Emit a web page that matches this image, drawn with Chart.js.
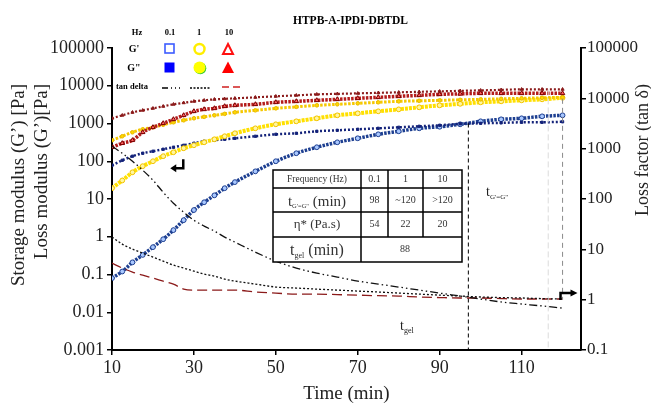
<!DOCTYPE html>
<html>
<head>
<meta charset="utf-8">
<script src="https://cdn.jsdelivr.net/npm/chart.js@4.4.0/dist/chart.umd.min.js"></script>
<style>
  html, body { margin: 0; padding: 0; background: #fff; }
  #wrap { width: 651px; height: 409px; }
</style>
</head>
<body>
<div id="wrap"><canvas id="rheoChart"></canvas></div>
<script>
// values (time in min)
const timeMin = [10, 12.5, 15, 17.5, 20, 22.5, 25, 27.5, 30, 32.5, 35, 37.5, 40, 45, 50, 55, 60, 65, 70, 75, 80, 85, 90, 95, 100, 105, 110, 115, 120];

// storage modulus G' [Pa]
const gStore01 = [0.080, 0.12, 0.21, 0.33, 0.53, 0.86, 1.5, 2.75, 5.1, 8.2, 12.5, 19.3, 28, 54, 100, 163, 235, 318, 406, 518, 622, 746, 820, 953, 1143, 1291, 1374, 1549, 1648];
const gStore1 = [19.3, 31, 51, 74, 100, 136, 173, 221, 265, 318, 382, 459, 551, 746, 953, 1143, 1374, 1648, 1862, 2104, 2370, 2685, 3027, 3320, 3639, 3864, 4111, 4365, 4790];
const gStore10 = [235, 300, 360, 585, 793, 1012, 1291, 1648, 2104, 2370, 2523, 2851, 3027, 3221, 3639, 3864, 4111, 4365, 4645, 4932, 5248, 5572, 5921, 6100, 6295, 6295, 6295, 6295, 6295];

// loss modulus G'' [Pa]
const gLoss01 = [78, 106, 136, 163, 184, 208, 235, 265, 300, 338, 360, 382, 406, 459, 518, 551, 622, 661, 703, 746, 793, 843, 896, 980, 1012, 1040, 1076, 1076, 1110];
const gLoss1 = [360, 459, 585, 703, 793, 925, 1076, 1216, 1374, 1500, 1648, 1800, 1977, 2234, 2523, 2760, 3027, 3221, 3420, 3639, 3864, 3990, 4111, 4240, 4365, 4500, 4645, 4790, 4932];
const gLoss10 = [1374, 1648, 1977, 2234, 2523, 2851, 3221, 3530, 3864, 4111, 4365, 4500, 4645, 4932, 5248, 5572, 5921, 6100, 6295, 6490, 6686, 6900, 7112, 7330, 7551, 7790, 8035, 8035, 8035];

// loss factor tan delta
const tanD01 = [1117, 811, 562, 373, 236, 136, 82.6, 54.7, 37.9, 28.9, 23.0, 17.5, 13.9, 8.8, 5.83, 4.24, 3.37, 2.81, 2.34, 2.04, 1.78, 1.55, 1.35, 1.18, 1.03, 0.90, 0.82, 0.75, 0.68];
const tanD1 = [17.5, 12.7, 10.1, 8.4, 7.0, 5.83, 4.86, 4.24, 3.69, 3.22, 2.94, 2.56, 2.34, 2.04, 1.78, 1.70, 1.62, 1.55, 1.48, 1.42, 1.35, 1.29, 1.23, 1.18, 1.13, 1.10, 1.08, 1.05, 1.03];
const tanD10 = [5.32, 4.24, 3.53, 3.08, 2.68, 2.34, 2.04, 1.62, 1.55, 1.55, 1.55, 1.55, 1.55, 1.42, 1.35, 1.29, 1.29, 1.26, 1.23, 1.20, 1.18, 1.13, 1.10, 1.08, 1.08, 1.05, 1.03, 1.03, 1.03];

// axis ticks
const xTicks = [10, 30, 50, 70, 90, 110];
const leftTicks = [0.001, 0.01, 0.1, 1, 10, 100, 1000, 10000, 100000];
const rightTicks = [0.1, 1, 10, 100, 1000, 10000, 100000];

// marked times
const gelTime = 97;
const crossTime1Hz = 120;
const faintTime = 116.5;

// table in the plot
const tableHead = ['Frequency (Hz)', '0.1', '1', '10'];
const tableCross = ['98', '~120', '>120'];
const tableEta = ['54', '22', '20'];
const tableGel = '88';

const serif = '"Liberation Serif", "Times New Roman", serif';
Chart.defaults.font.family = serif;

const pts = vals => timeMin.map((t, i) => ({ x: t, y: vals[i] }));

function ticksFrom(list) {
  return scale => { scale.ticks = list.map(v => ({ value: v })); };
}

// text with subscript part
function subText(ctx, cx, cy, parts) {
  let w = 0;
  parts.forEach(p => { ctx.font = p[1] + 'px ' + serif; w += ctx.measureText(p[0]).width; });
  let x = cx - w / 2;
  ctx.textAlign = 'left';
  ctx.textBaseline = 'alphabetic';
  parts.forEach(p => {
    ctx.font = p[1] + 'px ' + serif;
    ctx.fillText(p[0], x, cy + p[2]);
    x += ctx.measureText(p[0]).width;
  });
}

const decor = {
  id: 'decor',
  afterDatasetsDraw(chart) {
    const ctx = chart.ctx;
    const sx = chart.scales.x, yl = chart.scales.yL, yr = chart.scales.yR;
    const area = chart.chartArea;
    ctx.save();

    // vertical guide lines
    ctx.lineWidth = 1;
    ctx.strokeStyle = '#dcdcdc';
    ctx.setLineDash([6, 3]);
    let fx = sx.getPixelForValue(faintTime);
    ctx.beginPath(); ctx.moveTo(fx, yl.getPixelForValue(8000)); ctx.lineTo(fx, area.bottom); ctx.stroke();

    ctx.strokeStyle = '#8a8a8a';
    ctx.setLineDash([5, 4]);
    let cx = sx.getPixelForValue(crossTime1Hz);
    ctx.beginPath(); ctx.moveTo(cx, yl.getPixelForValue(4500)); ctx.lineTo(cx, yr.getPixelForValue(1)); ctx.stroke();

    ctx.strokeStyle = '#000';
    ctx.setLineDash([4, 3]);
    let gx = sx.getPixelForValue(gelTime);
    ctx.beginPath(); ctx.moveTo(gx, yl.getPixelForValue(1000)); ctx.lineTo(gx, area.bottom); ctx.stroke();
    ctx.setLineDash([]);

    // labels
    ctx.fillStyle = '#222';
    subText(ctx, sx.getPixelForValue(82), yl.getPixelForValue(0.0033), [['t', 14, 0], ['gel', 8, 3]]);
    subText(ctx, sx.getPixelForValue(104), yl.getPixelForValue(12), [['t', 14, 0], ['G\'=G"', 7, 3]]);

    // arrows
    ctx.strokeStyle = '#000';
    ctx.fillStyle = '#000';
    ctx.lineWidth = 2.5;
    let ax = sx.getPixelForValue(27.4), ay = yl.getPixelForValue(65);
    ctx.beginPath(); ctx.moveTo(ax, ay - 9); ctx.lineTo(ax, ay); ctx.lineTo(ax - 8, ay); ctx.stroke();
    ctx.beginPath(); ctx.moveTo(ax - 13, ay); ctx.lineTo(ax - 7, ay - 4); ctx.lineTo(ax - 7, ay + 4); ctx.closePath(); ctx.fill();

    let bx = sx.getPixelForValue(119.5), by = yr.getPixelForValue(1.03);
    ctx.beginPath(); ctx.moveTo(bx, by + 1); ctx.lineTo(bx, by - 6); ctx.lineTo(bx + 11, by - 6); ctx.stroke();
    ctx.beginPath(); ctx.moveTo(bx + 17, by - 6); ctx.lineTo(bx + 10, by - 9.5); ctx.lineTo(bx + 10, by - 2.5); ctx.closePath(); ctx.fill();

    ctx.restore();
  },
  afterDraw(chart) {
    const ctx = chart.ctx;
    const area = chart.chartArea;
    ctx.save();

    // title
    ctx.fillStyle = '#000';
    ctx.font = 'bold 11.5px ' + serif;
    ctx.textAlign = 'center';
    ctx.textBaseline = 'middle';
    ctx.fillText('HTPB-A-IPDI-DBTDL', (area.left + area.right) / 2 + 4, 21);

    // rotated axis titles
    ctx.fillStyle = '#222';
    ctx.textAlign = 'right';
    [['Storage modulus (G\u2019) [Pa]', 19, 19], ['Loss modulus (G\u2019)[Pa]', 42, 19], ['Loss factor (tan \u03b4)', 643, 18]].forEach(t => {
      ctx.save();
      ctx.font = t[2] + 'px ' + serif;
      ctx.translate(t[1], 84);
      ctx.rotate(-Math.PI / 2);
      ctx.fillText(t[0], 0, 0);
      ctx.restore();
    });

    // legend block
    ctx.fillStyle = '#000';
    ctx.textAlign = 'center';
    ctx.font = 'bold 8.5px ' + serif;
    ctx.fillText('Hz', 137, 33);
    ctx.fillText('0.1', 170, 33);
    ctx.fillText('1', 199, 33);
    ctx.fillText('10', 229, 33);
    ctx.font = 'bold 10px ' + serif;
    ctx.fillText('G\'', 134, 49);
    ctx.fillText('G"', 134, 68);
    ctx.textAlign = 'left';
    ctx.font = 'bold 8.5px ' + serif;
    ctx.fillText('tan delta', 116, 87);

    ctx.lineWidth = 1.6;
    ctx.strokeStyle = '#3c5cff';
    ctx.strokeRect(165, 44, 9, 9);
    ctx.strokeStyle = '#ffee00';
    ctx.lineWidth = 2.5;
    ctx.beginPath(); ctx.arc(199.5, 49, 5, 0, Math.PI * 2); ctx.stroke();
    ctx.strokeStyle = '#ff1010';
    ctx.lineWidth = 2;
    ctx.beginPath(); ctx.moveTo(228, 44); ctx.lineTo(233, 54); ctx.lineTo(223, 54); ctx.closePath(); ctx.stroke();

    ctx.fillStyle = '#0000ff';
    ctx.fillRect(164.5, 62.5, 10, 10);
    ctx.fillStyle = '#33cc33';
    ctx.beginPath(); ctx.arc(200.3, 68.3, 6, 0, Math.PI * 2); ctx.fill();
    ctx.fillStyle = '#ffff00';
    ctx.beginPath(); ctx.arc(199.5, 67.5, 6, 0, Math.PI * 2); ctx.fill();
    ctx.fillStyle = '#ff0000';
    ctx.beginPath(); ctx.moveTo(228, 61.5); ctx.lineTo(234, 73); ctx.lineTo(222, 73); ctx.closePath(); ctx.fill();

    ctx.lineWidth = 1.3;
    ctx.strokeStyle = '#000';
    ctx.setLineDash([6, 3, 1, 3, 1, 3]);
    ctx.beginPath(); ctx.moveTo(162, 88); ctx.lineTo(180, 88); ctx.stroke();
    ctx.setLineDash([2, 1.5]);
    ctx.beginPath(); ctx.moveTo(190, 88); ctx.lineTo(211, 88); ctx.stroke();
    ctx.strokeStyle = '#d02020';
    ctx.setLineDash([7, 4]);
    ctx.beginPath(); ctx.moveTo(222, 87); ctx.lineTo(242, 87); ctx.stroke();
    ctx.setLineDash([]);

    // table
    const cols = [273, 361, 388, 423, 462];
    const rows = [170, 188, 212, 237, 262];
    ctx.fillStyle = '#fff';
    ctx.fillRect(cols[0], rows[0], cols[4] - cols[0], rows[4] - rows[0]);
    ctx.strokeStyle = '#000';
    ctx.lineWidth = 1.5;
    ctx.strokeRect(cols[0], rows[0], cols[4] - cols[0], rows[4] - rows[0]);
    ctx.beginPath();
    for (let r = 1; r < 4; r++) { ctx.moveTo(cols[0], rows[r]); ctx.lineTo(cols[4], rows[r]); }
    ctx.moveTo(cols[1], rows[0]); ctx.lineTo(cols[1], rows[4]);
    ctx.moveTo(cols[2], rows[0]); ctx.lineTo(cols[2], rows[3]);
    ctx.moveTo(cols[3], rows[0]); ctx.lineTo(cols[3], rows[3]);
    ctx.stroke();

    ctx.fillStyle = '#333';
    ctx.textAlign = 'center';
    ctx.textBaseline = 'middle';
    ctx.font = '9.5px ' + serif;
    ctx.fillText(tableHead[0], (cols[0] + cols[1]) / 2, (rows[0] + rows[1]) / 2);
    for (let c = 1; c < 4; c++) {
      ctx.font = '10px ' + serif;
      ctx.fillText(tableHead[c], (cols[c] + cols[c + 1]) / 2, (rows[0] + rows[1]) / 2);
      ctx.fillText(tableCross[c - 1], (cols[c] + cols[c + 1]) / 2, (rows[1] + rows[2]) / 2);
      ctx.fillText(tableEta[c - 1], (cols[c] + cols[c + 1]) / 2, (rows[2] + rows[3]) / 2);
    }
    ctx.fillText(tableGel, 405, (rows[3] + rows[4]) / 2);
    ctx.font = '13px ' + serif;
    ctx.fillText('\u03b7* (Pa.s)', (cols[0] + cols[1]) / 2, (rows[2] + rows[3]) / 2);
    subText(ctx, (cols[0] + cols[1]) / 2, rows[2] - 6, [['t', 15, 0], ['G\'=G"', 6.5, 2], [' (min)', 15, 0]]);
    subText(ctx, (cols[0] + cols[1]) / 2, rows[4] - 7, [['t', 16, 0], ['gel', 8, 3], [' (min)', 16, 0]]);

    ctx.restore();
  }
};

function modulusSet(label, vals, color, width, dash, style, radius, fill, edge) {
  return {
    label: label, data: pts(vals), yAxisID: 'yL',
    borderColor: color, borderWidth: width, borderDash: dash,
    pointStyle: style, pointRadius: radius, pointBackgroundColor: fill,
    pointBorderColor: edge, pointBorderWidth: 1,
    cubicInterpolationMode: 'monotone'
  };
}

function tanSet(label, vals, color, dash) {
  return {
    label: label, data: pts(vals), yAxisID: 'yR',
    borderColor: color, borderWidth: 1.3, borderDash: dash,
    pointRadius: 0, cubicInterpolationMode: 'monotone'
  };
}

const axisFont = { family: serif, size: 18 };

new Chart(document.getElementById('rheoChart'), {
  type: 'line',
  data: {
    datasets: [
      tanSet('tan delta 0.1 Hz', tanD01, '#111', [8, 3, 1.5, 3, 1.5, 3]),
      tanSet('tan delta 1 Hz', tanD1, '#111', [2, 2]),
      tanSet('tan delta 10 Hz', tanD10, '#8b1a1a', [10, 5]),
      modulusSet("G'' 10 Hz", gLoss10, '#8b1a1a', 2.2, [2, 2], 'triangle', 1.8, '#8b1a1a', '#8b1a1a'),
      modulusSet("G' 10 Hz", gStore10, '#b41c1c', 3.5, [2.5, 1.2], 'triangle', 2.6, '#ff6060', '#7a0000'),
      modulusSet("G'' 1 Hz", gLoss1, '#f5c800', 3, [2.5, 1.5], 'circle', 1.8, '#ffd800', '#e8b800'),
      modulusSet("G' 1 Hz", gStore1, '#ffe000', 4, [3, 1], 'circle', 2.4, '#fff7a0', '#f2c200'),
      modulusSet("G'' 0.1 Hz", gLoss01, '#14237a', 2.5, [2, 2], 'rect', 1.6, '#14237a', '#14237a'),
      modulusSet("G' 0.1 Hz", gStore01, '#1d3f91', 3.5, [2.5, 1.2], 'circle', 2.4, '#a9c8ff', '#1d3f91')
    ]
  },
  options: {
    responsive: true,
    maintainAspectRatio: false,
    animation: false,
    devicePixelRatio: 1,
    layout: { padding: { top: 48, left: 0, right: 0, bottom: 0 } },
    plugins: { legend: { display: false }, title: { display: false }, tooltip: { enabled: false } },
    scales: {
      x: {
        type: 'linear', min: 10, max: 124.5,
        afterBuildTicks: ticksFrom(xTicks),
        afterFit: s => { s.height = 59; },
        ticks: { font: axisFont, color: '#222', padding: 2, maxRotation: 0, autoSkip: false },
        grid: { drawOnChartArea: false, tickLength: 5, color: '#000', lineWidth: 1.5 },
        border: { color: '#000', width: 2 },
        title: { display: true, text: 'Time (min)', font: { family: serif, size: 19 }, color: '#222', padding: { top: 0, bottom: 4 } }
      },
      yL: {
        type: 'logarithmic', position: 'left', min: 0.001, max: 100000,
        afterBuildTicks: ticksFrom(leftTicks),
        afterFit: s => { s.width = 112; },
        ticks: { font: axisFont, color: '#222', padding: 3, callback: v => String(v) },
        grid: { drawOnChartArea: false, tickLength: 5, color: '#000', lineWidth: 1.5 },
        border: { color: '#000', width: 2 }
      },
      yR: {
        type: 'logarithmic', position: 'right', min: 0.1, max: 100000,
        afterBuildTicks: ticksFrom(rightTicks),
        afterFit: s => { s.width = 70; },
        ticks: { font: { family: serif, size: 17 }, color: '#222', padding: 1, callback: v => String(v) },
        grid: { drawOnChartArea: false, tickLength: 5, color: '#000', lineWidth: 1.5 },
        border: { color: '#000', width: 2 }
      }
    }
  },
  plugins: [decor]
});
</script>
</body>
</html>
